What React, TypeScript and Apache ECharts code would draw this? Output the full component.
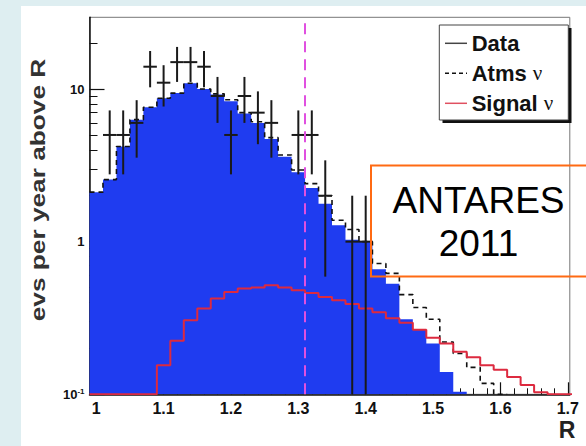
import React, { useEffect, useRef } from "react";
import * as echarts from "echarts";

// Bin edges of the histograms (R)
const binEdges = [
  0.99, 1.01, 1.03, 1.05, 1.07, 1.09, 1.11, 1.13, 1.15, 1.17, 1.19, 1.21,
  1.23, 1.25, 1.27, 1.29, 1.31, 1.33, 1.35, 1.37, 1.39, 1.41, 1.43, 1.45,
  1.47, 1.49, 1.51, 1.53, 1.55, 1.57, 1.59, 1.61, 1.63, 1.65, 1.67, 1.69, 1.71,
];
// Blue filled histogram (bins from 0.99)
const blueFill = [
  2.11, 2.55, 4.2, 6.3, 7.6, 8.7, 9.4, 10.9, 10.0, 9.2, 8.3, 6.9, 6.0, 4.7,
  3.6, 2.85, 2.25, 1.77, 1.28, 1.03, 1.0, 0.66, 0.53, 0.31, 0.265, 0.215,
  0.14, 0.104,
];
// Atms nu (dashed) histogram
const atmsNu = [
  2.11, 2.55, 4.2, 6.3, 7.6, 8.7, 9.4, 10.9, 10.0, 9.3, 8.5, 7.0, 6.1, 4.8,
  3.7, 2.95, 2.4, 2.0, 1.38, 1.2, 1.0, 0.72, 0.62, 0.45, 0.37, 0.31, 0.22,
  0.185, 0.15, 0.118, 0.1,
];
// Signal nu (red) histogram
const signalNu = [
  0.1, 0.1, 0.1, 0.1, 0.1, 0.155, 0.224, 0.306, 0.365, 0.424, 0.468, 0.493,
  0.5, 0.518, 0.5, 0.48, 0.461, 0.434, 0.413, 0.39, 0.365, 0.345, 0.315,
  0.294, 0.265, 0.235, 0.215, 0.19, 0.175, 0.155, 0.145, 0.13, 0.115, 0.103,
  0.1, 0.1,
];
// Data points
const dataR = [1.02, 1.04, 1.06, 1.08, 1.1, 1.12, 1.14, 1.16, 1.18, 1.2, 1.22, 1.24, 1.26, 1.3, 1.32, 1.34, 1.38, 1.4];
const dataV = [5, 5, 6, 14, 11, 15, 15, 14, 9, 5, 9, 7, 6, 5, 5, 2, 1, 1];
const dataErr = [2.24, 2.24, 2.45, 3.74, 3.32, 3.87, 3.87, 3.74, 3, 2.24, 3, 2.65, 2.45, 2.24, 2.24, 1.41, 1, 1];
const binHalf = 0.01;
const cutR = 1.31;

const xMajorTicks = [1.0, 1.1, 1.2, 1.3, 1.4, 1.5, 1.6, 1.7];
const xMinorTicks = [
  1.02, 1.04, 1.06, 1.08, 1.12, 1.14, 1.16, 1.18, 1.22, 1.24, 1.26, 1.28,
  1.32, 1.34, 1.36, 1.38, 1.42, 1.44, 1.46, 1.48, 1.52, 1.54, 1.56, 1.58,
  1.62, 1.64, 1.66, 1.68,
];
const yMajorTicks = [0.1, 1, 10];
const yMinorTicks = [0.2, 0.3, 0.4, 0.5, 0.6, 0.7, 0.8, 0.9, 2, 3, 4, 5, 6, 7, 8, 9, 20];
const xMin = 0.99;
const xMax = 1.703;
const yMin = 0.1;
const yMax = 29.5;

const FONT = "'Liberation Sans', Arial, Helvetica, sans-serif";

function stepData(values: number[]) {
  const pts: number[][] = values.map((v, i) => [binEdges[i], v]);
  pts.push([binEdges[values.length], values[values.length - 1]]);
  return pts;
}

export default function App() {
  const ref = useRef<HTMLDivElement>(null);
  useEffect(() => {
    if (!ref.current) return;
    const chart = echarts.init(ref.current, null, { renderer: "svg" });
    const pointData = dataR.map((r, i) => [r, dataV[i], dataErr[i]]);
    const option: any = {
      animation: false,
      backgroundColor: "transparent",
      grid: {
        left: 89.5,
        right: 16.2,
        top: 17.3,
        bottom: 51.7,
        show: true,
        borderColor: "#777",
        borderWidth: 1,
        backgroundColor: "transparent",
      },
      xAxis: [
        {
          type: "value",
          min: xMin,
          max: xMax,
          position: "bottom",
          axisLine: { show: true, lineStyle: { color: "#111", width: 1.5 } },
          axisTick: { show: true, inside: true, length: 12, customValues: xMajorTicks, lineStyle: { color: "#111", width: 1.2 } },
          axisLabel: {
            customValues: xMajorTicks,
            formatter: (v: number) => (Math.abs(v - 1) < 1e-9 ? "1" : v.toFixed(1)),
            fontSize: 16,
            fontWeight: "bold",
            color: "#111",
            fontFamily: FONT,
            margin: 6,
          },
          splitLine: { show: false },
        },
        {
          type: "value",
          min: xMin,
          max: xMax,
          position: "bottom",
          offset: 0,
          axisLine: { show: false },
          axisTick: { show: true, inside: true, length: 6, customValues: xMinorTicks, lineStyle: { color: "#111", width: 1 } },
          axisLabel: { show: false },
          splitLine: { show: false },
        },
      ],
      yAxis: [
        {
          type: "log",
          logBase: 10,
          min: yMin,
          max: yMax,
          position: "left",
          axisLine: { show: true, lineStyle: { color: "#111", width: 1.5 } },
          axisTick: { show: true, inside: true, length: 15, customValues: yMajorTicks, lineStyle: { color: "#111", width: 1.2 } },
          axisLabel: {
            customValues: yMajorTicks,
            formatter: (v: number) => (v < 0.5 ? "{a|10}{b|-1}" : v < 5 ? "1" : "10"),
            fontSize: 13,
            fontWeight: "bold",
            color: "#111",
            fontFamily: FONT,
            margin: 5,
            rich: {
              a: { fontSize: 13, fontWeight: "bold", color: "#111", fontFamily: FONT },
              b: { fontSize: 8, fontWeight: "bold", color: "#111", fontFamily: FONT, padding: [0, 0, 6, 0] },
            },
          },
          splitLine: { show: false },
        },
        {
          type: "log",
          logBase: 10,
          min: yMin,
          max: yMax,
          position: "left",
          offset: 0,
          axisLine: { show: false },
          axisTick: { show: true, inside: true, length: 8, customValues: yMinorTicks, lineStyle: { color: "#111", width: 1 } },
          axisLabel: { show: false },
          splitLine: { show: false },
        },
      ],
      series: [
        {
          name: "fill",
          type: "line",
          step: "end",
          data: stepData(blueFill),
          symbol: "none",
          lineStyle: { width: 0, color: "#1f3cf0" },
          areaStyle: { color: "#1f3cf0", opacity: 1, origin: "start" },
          z: 1,
          markLine: {
            silent: true,
            symbol: ["none", "none"],
            label: { show: false },
            lineStyle: { color: "#e050e0", type: [11, 7], width: 2 },
            data: [{ xAxis: cutR }],
            z: 6,
          },
        },
        {
          name: "Atms",
          type: "line",
          step: "end",
          data: stepData(atmsNu),
          symbol: "none",
          lineStyle: { color: "#111", width: 1.6, type: [5, 4] },
          z: 3,
        },
        {
          name: "Signal",
          type: "line",
          step: "end",
          data: stepData(signalNu),
          symbol: "none",
          lineStyle: { color: "#dd2a3f", width: 2 },
          z: 4,
        },
        {
          name: "Data",
          type: "custom",
          data: pointData,
          encode: { x: 0, y: 1 },
          z: 5,
          renderItem: (params: any, api: any) => {
            const x = api.value(0);
            const y = api.value(1);
            const e = api.value(2);
            const lo = Math.max(y - e, yMin);
            const hi = Math.min(y + e, yMax);
            const pTop = api.coord([x, hi]);
            const pBot = api.coord([x, lo]);
            const pL = api.coord([x - binHalf, y]);
            const pR = api.coord([x + binHalf, y]);
            const st = { stroke: "#1a1a1a", lineWidth: 2 };
            return {
              type: "group",
              children: [
                { type: "line", shape: { x1: pTop[0], y1: pTop[1], x2: pBot[0], y2: pBot[1] }, style: st },
                { type: "line", shape: { x1: pL[0], y1: pL[1], x2: pR[0], y2: pR[1] }, style: st },
              ],
            };
          },
        },
      ],
      graphic: [
        // y-axis title
        {
          type: "text",
          x: 37,
          y: 190,
          rotation: Math.PI / 2,
          scaleX: 1.25,
          style: {
            text: "evs per year above R",
            fontSize: 21,
            fontWeight: "bold",
            fontFamily: FONT,
            fill: "#333",
            align: "center",
            verticalAlign: "middle",
          },
        },
        // x-axis title
        {
          type: "text",
          x: 567,
          y: 430,
          style: {
            text: "R",
            fontSize: 23,
            fontWeight: "bold",
            fontFamily: FONT,
            fill: "#222",
            align: "center",
            verticalAlign: "middle",
          },
        },
        // legend shadow + box
        { type: "rect", shape: { x: 442.5, y: 28, width: 129, height: 95 }, style: { fill: "#111" }, z: 10 },
        { type: "rect", shape: { x: 439.3, y: 25, width: 129, height: 95 }, style: { fill: "#fff", stroke: "#444", lineWidth: 1 }, z: 11 },
        { type: "line", shape: { x1: 445, y1: 43.3, x2: 467, y2: 43.3 }, style: { stroke: "#444", lineWidth: 1.5 }, z: 12 },
        { type: "line", shape: { x1: 445, y1: 73.3, x2: 467, y2: 73.3 }, style: { stroke: "#111", lineWidth: 1.6, lineDash: [4, 3] }, z: 12 },
        { type: "line", shape: { x1: 445, y1: 103.3, x2: 467, y2: 103.3 }, style: { stroke: "#e05060", lineWidth: 1.5 }, z: 12 },
        {
          type: "text",
          x: 471.7,
          y: 43.3,
          z: 12,
          style: { text: "Data", fontSize: 22, fontWeight: "bold", fontFamily: FONT, fill: "#111", verticalAlign: "middle" },
        },
        {
          type: "text",
          x: 471.7,
          y: 73.3,
          z: 12,
          style: {
            text: "{b|Atms }{n|ν}",
            verticalAlign: "middle",
            rich: {
              b: { fontSize: 22, fontWeight: "bold", fontFamily: FONT, fill: "#111" },
              n: { fontSize: 21, fontWeight: "normal", fontFamily: "'Liberation Serif', serif", fill: "#111" },
            },
          },
        },
        {
          type: "text",
          x: 471.7,
          y: 103.3,
          z: 12,
          style: {
            text: "{b|Signal }{n|ν}",
            verticalAlign: "middle",
            rich: {
              b: { fontSize: 22, fontWeight: "bold", fontFamily: FONT, fill: "#111" },
              n: { fontSize: 21, fontWeight: "normal", fontFamily: "'Liberation Serif', serif", fill: "#111" },
            },
          },
        },
        // ANTARES box
        {
          type: "rect",
          z: 20,
          shape: { x: 371, y: 165.5, width: 240, height: 111 },
          style: { fill: "none", stroke: "#ff6a13", lineWidth: 2 },
        },
        {
          type: "text",
          x: 478.5,
          y: 200,
          z: 21,
          style: { text: "ANTARES", fontSize: 37, fontFamily: FONT, fill: "#000", align: "center", verticalAlign: "middle" },
        },
        {
          type: "text",
          x: 478.5,
          y: 243.5,
          z: 21,
          style: { text: "2011", fontSize: 37, fontFamily: FONT, fill: "#000", align: "center", verticalAlign: "middle" },
        },
      ],
    };
    chart.setOption(option);
    return () => chart.dispose();
  }, []);

  return (
    <div style={{ position: "fixed", left: 0, top: 0, width: 586, height: 446, background: "#deeef1", overflow: "hidden" }}>
      <div style={{ position: "absolute", left: 20.5, top: 5.5, right: 0, bottom: 0, background: "#fff" }} />
      <div ref={ref} style={{ position: "absolute", left: 0, top: 0, width: 586, height: 446 }} />
    </div>
  );
}
